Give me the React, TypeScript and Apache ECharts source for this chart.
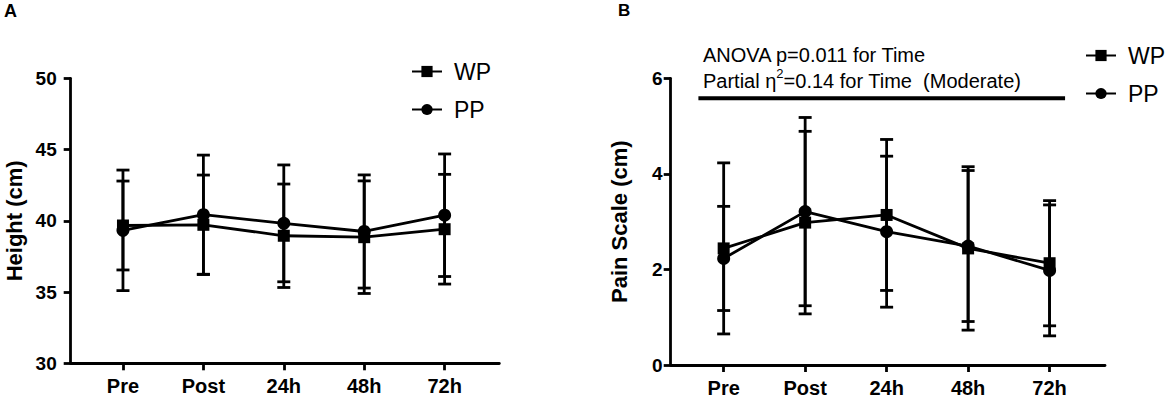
import React, { useEffect, useRef } from "react";
import * as echarts from "echarts";

const categories = ["Pre", "Post", "24h", "48h", "72h"];
const heightWP = [39.67, 39.72, 38.95, 38.85, 39.41];
const heightWPsd = [3.12, 3.49, 3.63, 3.95, 3.85];
const heightPP = [39.33, 40.43, 39.82, 39.25, 40.39];
const heightPPsd = [4.23, 4.18, 4.1, 3.97, 4.3];
const painWP = [2.44, 2.98, 3.14, 2.44, 2.13];
const painWPsd = [1.79, 1.91, 1.58, 1.71, 1.31];
const painPP = [2.23, 3.21, 2.79, 2.49, 1.98];
const painPPsd = [1.09, 1.97, 1.58, 1.58, 1.37];
const sigBarX = [-0.31, 4.19];
const sigBarY = 5.58;
const anovaLine1 = "ANOVA p=0.011 for Time";
const anovaLine2 = ["Partial η", "2", "=0.14 for Time  (Moderate)"];

const FONT = "'Liberation Sans', Arial, Helvetica, sans-serif";
const BLACK = "#000";
const LW = 2.8;

const pts = (vals: number[]) => vals.map((v, i) => [i, v]);
const bars = (vals: number[], sd: number[]) => vals.map((v, i) => [i, v - sd[i], v + sd[i]]);

function errRender(params: any, api: any) {
  const x = api.value(0);
  const lo = api.coord([x, api.value(1)]);
  const hi = api.coord([x, api.value(2)]);
  const hw = 6.5;
  const st = { stroke: BLACK, lineWidth: LW };
  return {
    type: "group",
    children: [
      { type: "line", shape: { x1: lo[0], y1: lo[1], x2: hi[0], y2: hi[1] }, style: st },
      { type: "line", shape: { x1: lo[0] - hw, y1: lo[1], x2: lo[0] + hw, y2: lo[1] }, style: st },
      { type: "line", shape: { x1: hi[0] - hw, y1: hi[1], x2: hi[0] + hw, y2: hi[1] }, style: st },
    ],
  };
}

function xAxisCfg(gridIndex: number) {
  return {
    type: "value",
    gridIndex,
    min: -0.65,
    max: 4.68,
    splitLine: { show: false },
    axisLine: { show: true, onZero: false, lineStyle: { color: BLACK, width: LW } },
    axisTick: { show: true, length: 7, customValues: [0, 1, 2, 3, 4], lineStyle: { color: BLACK, width: LW } },
    axisLabel: {
      show: true,
      customValues: [0, 1, 2, 3, 4],
      formatter: (v: number) => categories[Math.round(v)] ?? "",
      color: BLACK,
      fontSize: 20,
      fontWeight: "bold",
      fontFamily: FONT,
      margin: 13,
    },
  };
}

function yAxisCfg(gridIndex: number, min: number, max: number, interval: number, name: string, nameGap: number, margin: number) {
  return {
    type: "value",
    gridIndex,
    min,
    max,
    interval,
    name,
    nameLocation: "middle",
    nameGap,
    nameTextStyle: { color: BLACK, fontSize: 22, fontWeight: "bold", fontFamily: FONT },
    splitLine: { show: false },
    axisLine: { show: true, onZero: false, lineStyle: { color: BLACK, width: LW } },
    axisTick: { show: true, length: 7, lineStyle: { color: BLACK, width: LW } },
    axisLabel: { color: BLACK, fontSize: 19, fontWeight: "bold", fontFamily: FONT, margin },
  };
}

function lineSeries(name: string, vals: number[], idx: number, symbol: string, size: number) {
  return {
    type: "line",
    name,
    xAxisIndex: idx,
    yAxisIndex: idx,
    data: pts(vals),
    symbol,
    symbolSize: size,
    showSymbol: true,
    lineStyle: { color: BLACK, width: LW },
    itemStyle: { color: BLACK },
    z: 5,
  };
}

function errSeries(vals: number[], sd: number[], idx: number) {
  return {
    type: "custom",
    xAxisIndex: idx,
    yAxisIndex: idx,
    data: bars(vals, sd),
    encode: { x: 0, y: [1, 2] },
    renderItem: errRender,
    z: 3,
    silent: true,
  };
}

function legendCfg(left: number, top: number) {
  return {
    data: ["WP", "PP"],
    orient: "vertical",
    left,
    top,
    itemWidth: 30,
    itemHeight: 14,
    itemGap: 15,
    selectedMode: false,
    textStyle: { color: BLACK, fontSize: 23, fontFamily: FONT, padding: [0, 0, 0, 7] },
  };
}

export default function App() {
  const ref = useRef<HTMLDivElement>(null);
  useEffect(() => {
    document.body.style.margin = "0";
    const chart = echarts.init(ref.current!, undefined, { renderer: "svg" });
    chart.setOption({
      animation: false,
      backgroundColor: "#fff",
      textStyle: { fontFamily: FONT },
      grid: [
        { left: 70.7, top: 78.3, width: 428.6, height: 285, outerBoundsMode: "none" },
        { left: 670.7, top: 78.3, width: 434.3, height: 286.7, outerBoundsMode: "none" },
      ],
      xAxis: [xAxisCfg(0), xAxisCfg(1)],
      yAxis: [
        yAxisCfg(0, 30, 50, 5, "Height (cm)", 45, 14),
        yAxisCfg(1, 0, 6, 2, "Pain Scale (cm)", 40, 8),
      ],
      legend: [legendCfg(406, 55), legendCfg(1080, 39)],
      graphic: [
        { type: "text", left: 4, top: 2, style: { text: "A", fontSize: 18, fontWeight: "bold", fontFamily: FONT, fill: BLACK } },
        { type: "text", left: 618, top: 2, style: { text: "B", fontSize: 17, fontWeight: "bold", fontFamily: FONT, fill: BLACK } },
        { type: "text", left: 703, top: 44.5, style: { text: anovaLine1, fontSize: 20, fontFamily: FONT, fill: BLACK } },
        {
          type: "text",
          left: 703,
          top: 67,
          style: {
            text: `{a|${anovaLine2[0]}}{s|${anovaLine2[1]}}{a|${anovaLine2[2]}}`,
            fontFamily: FONT,
            fill: BLACK,
            rich: {
              a: { fontSize: 20, fontFamily: FONT, fill: BLACK, color: BLACK, verticalAlign: "bottom", lineHeight: 24 },
              s: { fontSize: 13, fontFamily: FONT, fill: BLACK, color: BLACK, verticalAlign: "top", lineHeight: 13 },
            },
          },
        },
      ],
      series: [
        errSeries(heightWP, heightWPsd, 0),
        errSeries(heightPP, heightPPsd, 0),
        lineSeries("WP", heightWP, 0, "rect", 12),
        lineSeries("PP", heightPP, 0, "circle", 13),
        errSeries(painWP, painWPsd, 1),
        errSeries(painPP, painPPsd, 1),
        lineSeries("WP", painWP, 1, "rect", 12),
        lineSeries("PP", painPP, 1, "circle", 13),
        {
          type: "line",
          name: "sig",
          xAxisIndex: 1,
          yAxisIndex: 1,
          data: sigBarX.map((x) => [x, sigBarY]),
          symbol: "none",
          lineStyle: { color: BLACK, width: 4 },
          z: 2,
          silent: true,
        },
      ],
    });
    return () => chart.dispose();
  }, []);
  return <div ref={ref} style={{ width: 1170, height: 407 }} />;
}
